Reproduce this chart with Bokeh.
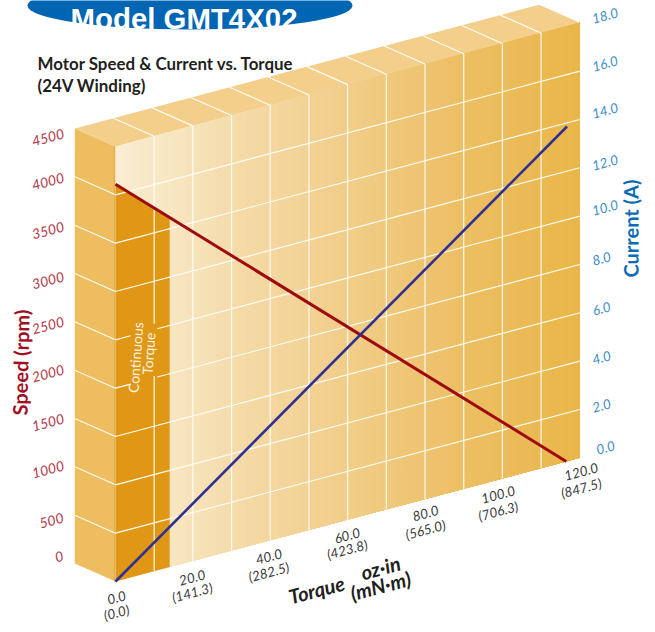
from bokeh.plotting import figure
from bokeh.embed import file_html
from bokeh.resources import INLINE
from bokeh.core.properties import value
from bokeh.models import Range1d

# ---- chart values ----
speed_ticks = [0, 500, 1000, 1500, 2000, 2500, 3000, 3500, 4000, 4500]
speed_labels = ["0", "500", "1000", "1500", "2000", "2500", "3000", "3500", "4000", "4500"]
current_ticks = [0.0, 2.0, 4.0, 6.0, 8.0, 10.0, 12.0, 14.0, 16.0, 18.0]
current_labels = ["0.0", "2.0", "4.0", "6.0", "8.0", "10.0", "12.0", "14.0", "16.0", "18.0"]
torque_ticks = [0.0, 20.0, 40.0, 60.0, 80.0, 100.0, 120.0]
torque_labels = ["0.0", "20.0", "40.0", "60.0", "80.0", "100.0", "120.0"]
torque_metric_labels = ["(0.0)", "(141.3)", "(282.5)", "(423.8)", "(565.0)", "(706.3)", "(847.5)"]
torque_grid = [10, 20, 30, 40, 50, 60, 70, 80, 90, 100, 110]
speed_grid = [500, 1000, 1500, 2000, 2500, 3000, 3500, 4000]
speed_torque = [0.0, 116.5]
speed_rpm = [4110, 0]
current_torque = [0.0, 116.7]
current_amp = [0.0, 13.85]
continuous_torque_limit = 14.0

# ---- layout: an oblique projection of the chart's plane onto the page ----
W, H = 647, 624
X0, Y0 = 115.0, 581.0
PX_PER_TORQUE = 464.3 / 120
RISE_PER_TORQUE = 123.7 / 120
PX_PER_RPM = 435.0 / 4500
DEPTH_X, DEPTH_Y = -40.7, -18.0
T_MAX, S_MAX, I_MAX = 120.0, 4500.0, 18.0


def py(img_y):
    return H - img_y


def proj(t, s):
    return X0 + PX_PER_TORQUE * t, py(Y0 - RISE_PER_TORQUE * t - PX_PER_RPM * s)


def proj_i(t, i):
    return proj(t, i * S_MAX / I_MAX)


def back(pt):
    return pt[0] + DEPTH_X, pt[1] - DEPTH_Y


def poly(pts):
    return [a[0] for a in pts], [a[1] for a in pts]


p = figure(width=W, height=H, x_range=Range1d(0, W), y_range=Range1d(0, H),
           toolbar_location=None, output_backend="svg", min_border=0)
p.axis.visible = False
p.grid.visible = False
p.outline_line_color = None
p.background_fill_color = "white"

# banner
p.ellipse(x=189.5, y=py(5), width=325, height=48, fill_color="#0066B3", line_color=None)
SANS = value("Liberation Sans")
LATO = value("Lato")
p.text(x=[183.5], y=[py(17.5)], text=["Model GMT4X02"], text_font=SANS, text_font_style="bold",
       text_font_size="29.4px", text_color="white", text_align="center", text_baseline="alphabetic")

# chart title
p.text(x=[37, 37], y=[py(63), py(85)], text=["Motor Speed & Current vs. Torque", "(24V Winding)"],
       text_font=LATO, text_font_style="bold", text_font_size="16.9px", text_color="#231F20",
       text_align="left", text_baseline="alphabetic")

# left & top faces
xs, ys = poly([proj(0, 0), proj(0, S_MAX), back(proj(0, S_MAX)), back(proj(0, 0))])
p.patch(xs, ys, fill_color="#EEBD60", line_color=None)
xs, ys = poly([proj(0, S_MAX), proj(T_MAX, S_MAX), back(proj(T_MAX, S_MAX)), back(proj(0, S_MAX))])
p.patch(xs, ys, fill_color="#F3CF8B", line_color=None)

# main face: stepped gradient
stops = [(0, (249, 236, 210)), (15, (248, 230, 193)), (30, (245, 219, 170)), (60, (241, 205, 137)),
         (90, (237, 191, 100)), (120, (233, 182, 72))]


def grad(t):
    for (a, ca), (b, cb) in zip(stops, stops[1:]):
        if t <= b:
            f = (t - a) / (b - a)
            return "#%02X%02X%02X" % tuple(round(u + (v - u) * f) for u, v in zip(ca, cb))
    return "#E9B648"


for k in range(0, 60):
    t = k * 2.0
    xs, ys = poly([proj(t, 0), proj(t, S_MAX), proj(T_MAX, S_MAX), proj(T_MAX, 0)])
    p.patch(xs, ys, fill_color=grad(t + 1), line_color=None)

# continuous torque region, under the speed line
s_at_limit = speed_rpm[0] + (speed_rpm[1] - speed_rpm[0]) * continuous_torque_limit / speed_torque[1]
xs, ys = poly([proj(0, 0), proj(0, speed_rpm[0]), proj(continuous_torque_limit, s_at_limit),
               proj(continuous_torque_limit, 0)])
p.patch(xs, ys, fill_color="#E09716", line_color=None)

# thin edge between left face and main face
xs, ys = poly([proj(0, 0), proj(0, S_MAX)])
p.line([x - 1 for x in xs], ys, line_color="#E3AE4D", line_width=1.2)

# grid
GRID = dict(line_color="#FFFDF5", line_width=1.15)
gap_t = (3.9, 10.8)
for s in speed_grid:
    a, b = proj(0, s), proj(T_MAX, s)
    c = back(a)
    p.line([c[0], a[0]], [c[1], a[1]], **GRID)
    if s in (2000, 2500):
        g1, g2 = proj(gap_t[0], s), proj(gap_t[1], s)
        p.line([a[0], g1[0]], [a[1], g1[1]], **GRID)
        p.line([g2[0], b[0]], [g2[1], b[1]], **GRID)
    else:
        p.line([a[0], b[0]], [a[1], b[1]], **GRID)
for t in torque_grid:
    a, b = proj(t, 0), proj(t, S_MAX)
    c = back(b)
    p.line([b[0], c[0]], [b[1], c[1]], **GRID)
    if t == 10:
        g1, g2 = proj(t, 2020), proj(t, 2560)
        p.line([a[0], g1[0]], [a[1], g1[1]], **GRID)
        p.line([g2[0], b[0]], [g2[1], b[1]], **GRID)
    else:
        p.line([a[0], b[0]], [a[1], b[1]], **GRID)

# curves
xs, ys = poly([proj(t, s) for t, s in zip(speed_torque, speed_rpm)])
p.line(xs, ys, line_color="#9E0B0F", line_width=3)
xs, ys = poly([proj_i(t, i) for t, i in zip(current_torque, current_amp)])
p.line(xs, ys, line_color="#2E3192", line_width=2.6)

# tick labels (centres placed by hand like the original's hand-set labels)
ANG = 0.26
LBL = dict(text_font=LATO, text_font_style="italic", text_align="center", text_baseline="middle", angle=ANG)
speed_label_x = [58.7, 51, 47.5, 47.5, 47.5, 47.5, 47.5, 47.5, 47.5, 47.5]
speed_label_y = [556, 520, 469, 422, 373, 325, 280, 230, 181, 137]
p.text(x=speed_label_x, y=[py(v) for v in speed_label_y], text=speed_labels,
       text_color="#B23A48", text_font_size="14px", **LBL)
current_label_x = [605, 601, 601, 601, 601, 604.5, 604.5, 604.5, 604.5, 604.5]
current_label_y = [447, 405, 357, 308, 258, 207, 162, 110, 63, 15]
p.text(x=current_label_x, y=[py(v) for v in current_label_y], text=current_labels,
       text_color="#3D8DC9", text_font_size="13.5px", **LBL)
torque_label_x = [116, 191.7, 268.3, 346.7, 425, 497.7, 580.7]
torque_label_y = [597, 577, 556, 535, 512.7, 494, 471]
metric_label_y = [612, 592, 571.7, 549, 529.3, 510.7, 487.7]
p.text(x=torque_label_x, y=[py(v) for v in torque_label_y], text=torque_labels,
       text_color="#3A3A3A", text_font_size="13.5px", **LBL)
p.text(x=torque_label_x, y=[py(v) for v in metric_label_y], text=torque_metric_labels,
       text_color="#3A3A3A", text_font_size="13.5px", **LBL)

# axis titles
TITLE = dict(text_font=LATO, text_font_style="bold", text_align="center", text_baseline="middle")
p.text(x=[20], y=[py(362)], text=["Speed (rpm)"], text_color="#A00F1F", text_font_size="20px",
       angle=1.55, **TITLE)
p.text(x=[630], y=[py(228)], text=["Current (A)"], text_color="#0A6BB5", text_font_size="20px",
       angle=1.57, **TITLE)
TITLE_I = dict(text_font=LATO, text_font_style="bold italic", text_align="center",
               text_baseline="middle", text_color="#231F20", text_font_size="20px", angle=ANG)
p.text(x=[316], y=[py(589)], text=["Torque"], **TITLE_I)
p.text(x=[380, 380], y=[py(567), py(585)], text=["oz\u00b7in", "(mN\u00b7m)"], **TITLE_I)

# continuous torque note
p.text(x=[135, 148], y=[py(357), py(353)], text=["Continuous", "Torque"], text_font=LATO,
       text_font_size="14px", text_color="#FBF3E0", text_align="center", text_baseline="middle", angle=1.5)

open("out.html", "w").write(file_html(p, INLINE))
